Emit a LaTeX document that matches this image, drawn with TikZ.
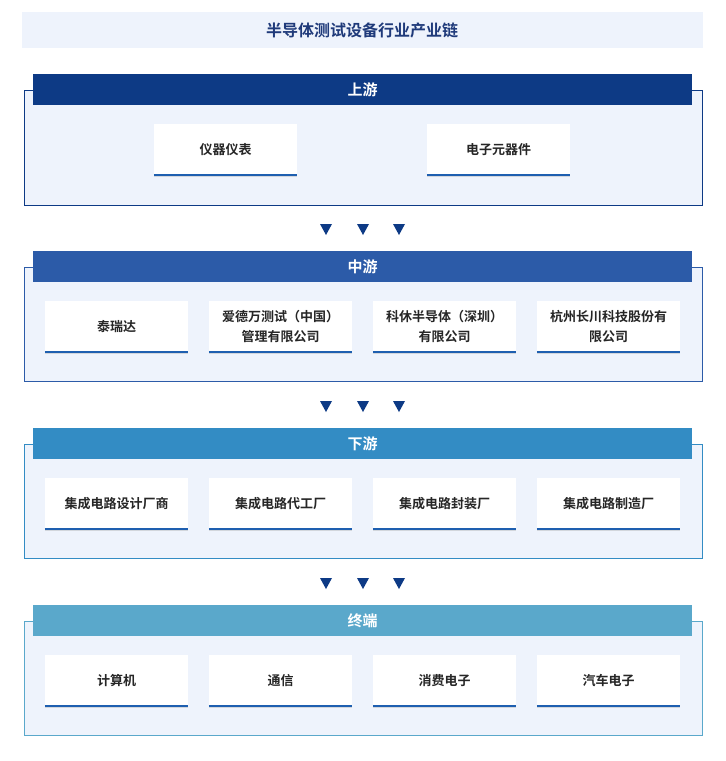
\documentclass[tikz,border=0pt]{standalone}
\usepackage{fontspec}
\setmainfont{Noto Sans CJK SC}[BoldFont={Noto Sans CJK SC Bold}]
\usetikzlibrary{shadows}
\definecolor{c1}{HTML}{0D3A85}
\definecolor{c2}{HTML}{2C5BA8}
\definecolor{c3}{HTML}{338CC4}
\definecolor{c4}{HTML}{5AA8CB}
\definecolor{cl}{HTML}{1E5FB0}
\definecolor{bgl}{HTML}{EEF3FC}
\definecolor{titlec}{HTML}{1F3A7A}
\tikzset{x=1pt,y=-1pt,
 card/.style={fill=white,minimum width=143pt,minimum height=51pt,align=center,font=\bfseries\fontsize{13}{20}\selectfont,text=black!85,drop shadow={shadow xshift=0pt,shadow yshift=-1.5pt,opacity=0.25}},
 hdr/.style={minimum width=659pt,minimum height=31pt,font=\bfseries\fontsize{15}{18}\selectfont,text=white,inner sep=0pt}}
\newcommand{\cardline}[1]{\draw[cl,line width=1.5pt] (#1.south west) -- (#1.south east);}
\newcommand{\tris}[1]{\foreach \xx in {326,363,399}{\fill[c1] (\xx-6,#1-5) -- (\xx+6,#1-5) -- (\xx,#1+6) -- cycle;}}
\begin{document}
\begin{tikzpicture}
\useasboundingbox (0,0) rectangle (726,761);
\fill[white] (0,0) rectangle (726,761);
\fill[bgl] (22,12) rectangle (703,48);
\node[font=\bfseries\fontsize{16}{18}\selectfont,text=titlec] (title) at (362,30) {半导体测试设备行业产业链};
% section 1
\draw[c1,fill=bgl,line width=1pt] (24,90) rectangle (702,205);
\node[hdr,fill=c1] (h1) at (362.5,89.5) {上游};
\node[card] (a1) at (225.5,149.5) {仪器仪表};
\node[card] (a2) at (498.5,149.5) {电子元器件};
\cardline{a1}\cardline{a2}
\tris{229}
% section 2
\draw[c2,fill=bgl,line width=1pt] (24,267) rectangle (702,381);
\node[hdr,fill=c2] (h2) at (362.5,266.5) {中游};
\node[card] (b1) at (116.5,326.5) {泰瑞达};
\node[card] (b2) at (280.5,326.5) {爱德万测试（中国）\\管理有限公司};
\node[card] (b3) at (444.5,326.5) {科休半导体（深圳）\\有限公司};
\node[card] (b4) at (608.5,326.5) {杭州长川科技股份有\\限公司};
\foreach \n in {b1,b2,b3,b4}{\cardline{\n}}
\tris{406}
% section 3
\draw[c3,fill=bgl,line width=1pt] (24,444) rectangle (702,558);
\node[hdr,fill=c3] (h3) at (362.5,443.5) {下游};
\node[card] (d1) at (116.5,503.5) {集成电路设计厂商};
\node[card] (d2) at (280.5,503.5) {集成电路代工厂};
\node[card] (d3) at (444.5,503.5) {集成电路封装厂};
\node[card] (d4) at (608.5,503.5) {集成电路制造厂};
\foreach \n in {d1,d2,d3,d4}{\cardline{\n}}
\tris{583}
% section 4
\draw[c4,fill=bgl,line width=1pt] (24,621) rectangle (702,735);
\node[hdr,fill=c4] (h4) at (362.5,620.5) {终端};
\node[card] (e1) at (116.5,680.5) {计算机};
\node[card] (e2) at (280.5,680.5) {通信};
\node[card] (e3) at (444.5,680.5) {消费电子};
\node[card] (e4) at (608.5,680.5) {汽车电子};
\foreach \n in {e1,e2,e3,e4}{\cardline{\n}}
\end{tikzpicture}
\end{document}
